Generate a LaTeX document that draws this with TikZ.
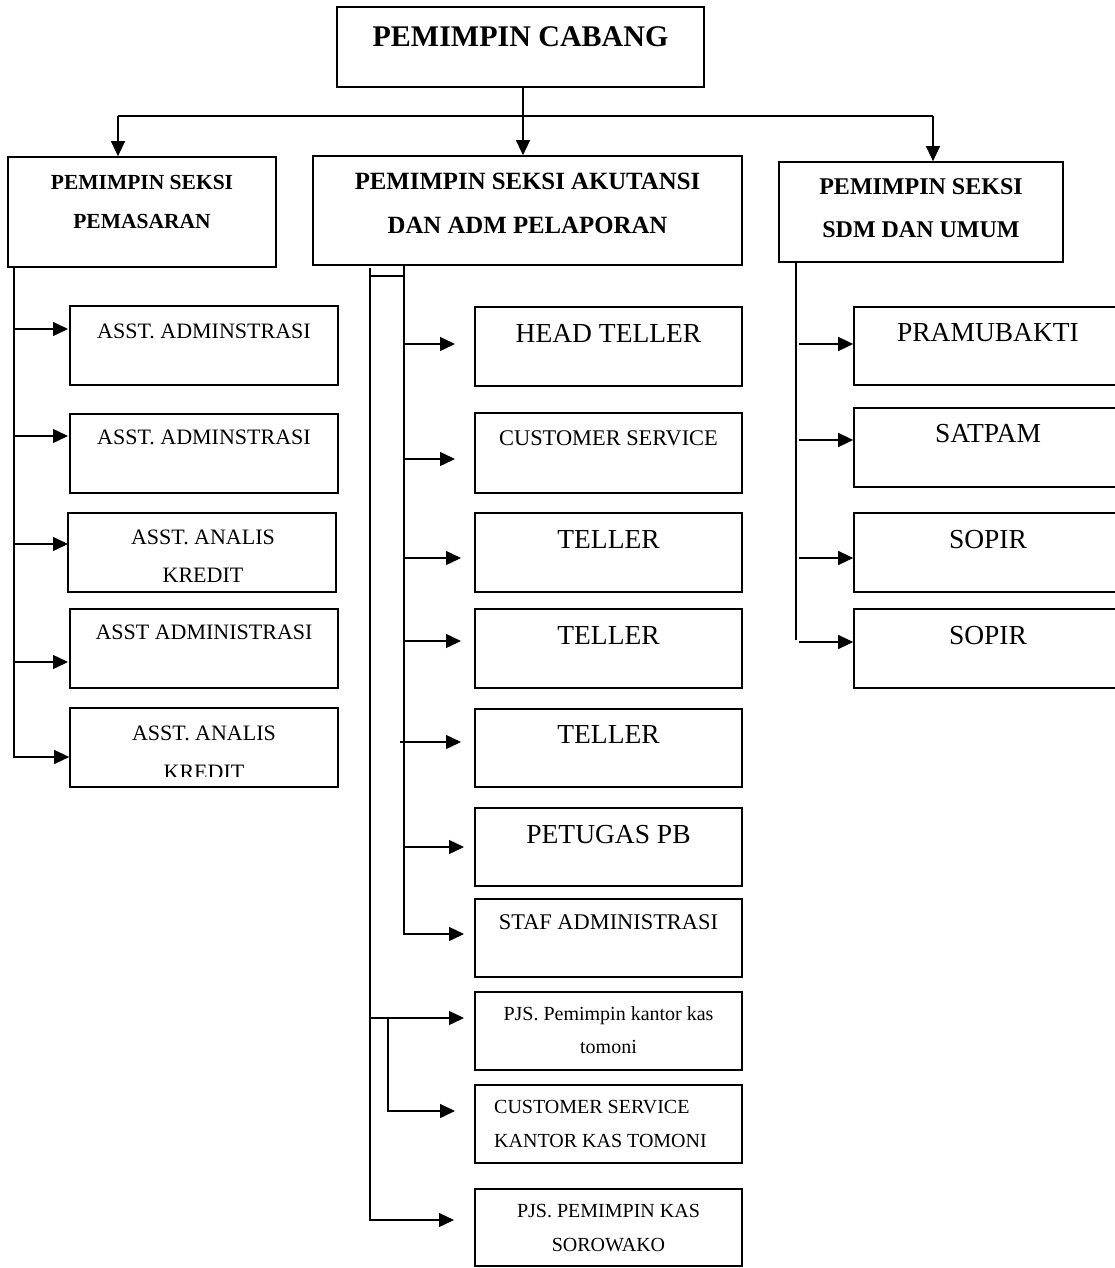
\documentclass[tikz,border=0pt]{standalone}
\usepackage{fontspec}
\setmainfont{Liberation Serif}
\usetikzlibrary{arrows.meta}

\tikzset{
  box/.style={draw, line width=1.7pt, inner sep=0pt, minimum height=79pt},
  lbl/.style 2 args={inner sep=0pt, align=center, font=\fontsize{#1}{#2}\selectfont},
  hd/.style 2 args={inner sep=0pt, align=center, font=\bfseries\fontsize{#1}{#2}\selectfont},
  conn/.style={line width=1.4pt},
  arr/.style={conn, -{Triangle[length=15pt,width=14pt]}}
}

\begin{document}
\begin{tikzpicture}[x=1pt, y=-1pt]
\useasboundingbox (0,0) rectangle (1115,1268);

% top and section heads
\node[box, minimum width=367pt, minimum height=80pt] (cabang) at (520.5,47) {};
\node[hd={30}{36}] (cabangt) at (520.5,37) {PEMIMPIN CABANG};
\node[box, minimum width=268pt, minimum height=110pt] (pemasaran) at (142,212) {};
\node[hd={21.5}{39}] (pemasarant) at (142,201.5) {PEMIMPIN SEKSI\\PEMASARAN};
\node[box, minimum width=429pt, minimum height=109pt] (akuntansi) at (527.5,210.5) {};
\node[hd={24.8}{44}] (akuntansit) at (527.5,203) {PEMIMPIN SEKSI AKUTANSI\\DAN ADM PELAPORAN};
\node[box, minimum width=284pt, minimum height=100pt] (sdm) at (921,212) {};
\node[hd={24}{43}] (sdmt) at (921,208.5) {PEMIMPIN SEKSI\\SDM DAN UMUM};

\coordinate (jl) at (118,116);
\coordinate (jm) at (523,116);
\coordinate (jr) at (933,116);
\draw[conn] (cabang.south -| jm) -- (jm);
\draw[conn] (jl) -- (jr);
\draw[arr] (jl) -- (jl |- pemasaran.north);
\draw[arr] (jm) -- (jm |- akuntansi.north);
\draw[arr] (jr) -- (jr |- sdm.north);

% pemasaran
\node[box, minimum width=268pt] (adm1) at (204,345.5) {};
\node[lbl={22}{38}] (adm1t) at (204,331.5) {ASST. ADMINSTRASI};
\node[box, minimum width=268pt] (adm2) at (204,453.5) {};
\node[lbl={22}{38}] (adm2t) at (204,437.5) {ASST. ADMINSTRASI};
\node[box, minimum width=268pt] (analis1) at (202,552.5) {};
\node[lbl={22}{38}] (analis1t) at (203,556.5) {ASST. ANALIS\\KREDIT};
\node[box, minimum width=268pt] (adm3) at (204,648.5) {};
\node[lbl={22}{38}] (adm3t) at (204,632.5) {ASST ADMINISTRASI};
\node[box, minimum width=268pt] (analis2) at (204,747.5) {};
\begin{scope}
  \clip (72,712) rectangle (336,776);
  \node[lbl={22}{39}] (analis2t) at (204,753) {ASST. ANALIS\\KREDIT};
\end{scope}

\coordinate (lspine) at (pemasaran.south -| 14,0);
\foreach \y in {329,436,544,662}
  \draw[arr] (lspine |- 0,\y) -- (68,\y);
\draw[arr] (lspine) |- (analis2.west |- 0,757);

% akuntansi
\node[box, minimum width=267pt] (head) at (608.5,346.5) {};
\node[lbl={27.5}{33}] (headt) at (608.5,333) {HEAD TELLER};
\node[box, minimum width=267pt, minimum height=80pt] (cs) at (608.5,453) {};
\node[lbl={22.4}{33}] (cst) at (608.5,438) {CUSTOMER SERVICE};
\node[box, minimum width=267pt] (teller1) at (608.5,552.5) {};
\node[lbl={27.5}{33}] (teller1t) at (608.5,539.5) {TELLER};
\node[box, minimum width=267pt] (teller2) at (608.5,648.5) {};
\node[lbl={27.5}{33}] (teller2t) at (608.5,635.5) {TELLER};
\node[box, minimum width=267pt, minimum height=78pt] (teller3) at (608.5,748) {};
\node[lbl={27.5}{33}] (teller3t) at (608.5,734.5) {TELLER};
\node[box, minimum width=267pt, minimum height=78pt] (pb) at (608.5,847) {};
\node[lbl={27.5}{33}] (pbt) at (608.5,834.5) {PETUGAS PB};
\node[box, minimum width=267pt, minimum height=78pt] (staf) at (608.5,938) {};
\node[lbl={22.4}{33}] (staft) at (608.5,922.5) {STAF ADMINISTRASI};
\node[box, minimum width=267pt, minimum height=78pt] (kastomoni) at (608.5,1031) {};
\node[lbl={20}{32.3}] (kastomonit) at (608.5,1030) {PJS. Pemimpin kantor kas\\tomoni};
\node[box, minimum width=267pt, minimum height=78pt] (cstomoni) at (608.5,1124) {};
\node[lbl={20}{34.3}, align=left, anchor=west] (cstomonit) at (494,1124) {CUSTOMER SERVICE\\KANTOR KAS TOMONI};
\node[box, minimum width=267pt, minimum height=77pt] (sorowako) at (608.5,1227.5) {};
\node[lbl={20}{33.4}] (sorowakot) at (608.5,1228) {PJS. PEMIMPIN KAS\\SOROWAKO};

\coordinate (ospine) at (370,268);
\coordinate (ispine) at (akuntansi.south -| 404,0);
\draw[conn] (ospine |- 0,276) -- (405,276);
\foreach \y/\l in {344/51,459/51,558/57,641/57,847/60}
  \draw[arr] (ispine |- 0,\y) -- ++(\l,0);
\draw[arr] (400,742) -- (461,742);
\draw[arr] (ispine) |- (464,934);
\draw[arr] (ospine |- 0,1018) -- (464,1018);
\draw[arr] (388,1018) |- (455,1111);
\draw[arr] (ospine) |- (454,1220);

% sdm
\node[box, minimum width=268pt, minimum height=78pt] (pramu) at (988,346) {};
\node[lbl={27.5}{33}] (pramut) at (988,333) {PRAMUBAKTI};
\node[box, minimum width=268pt] (satpam) at (988,447.5) {};
\node[lbl={27.5}{33}] (satpamt) at (988,434) {SATPAM};
\node[box, minimum width=268pt] (sopir1) at (988,552.5) {};
\node[lbl={27.5}{33}] (sopir1t) at (988,539.5) {SOPIR};
\node[box, minimum width=268pt] (sopir2) at (988,648.5) {};
\node[lbl={27.5}{33}] (sopir2t) at (988,635.5) {SOPIR};

\coordinate (rspine) at (sdm.south -| 796,0);
\draw[conn] (rspine) -- (796,640);
\foreach \y in {344,440,558,642}
  \draw[arr] (799,\y) -- (pramu.west |- 0,\y);
\end{tikzpicture}
\end{document}
